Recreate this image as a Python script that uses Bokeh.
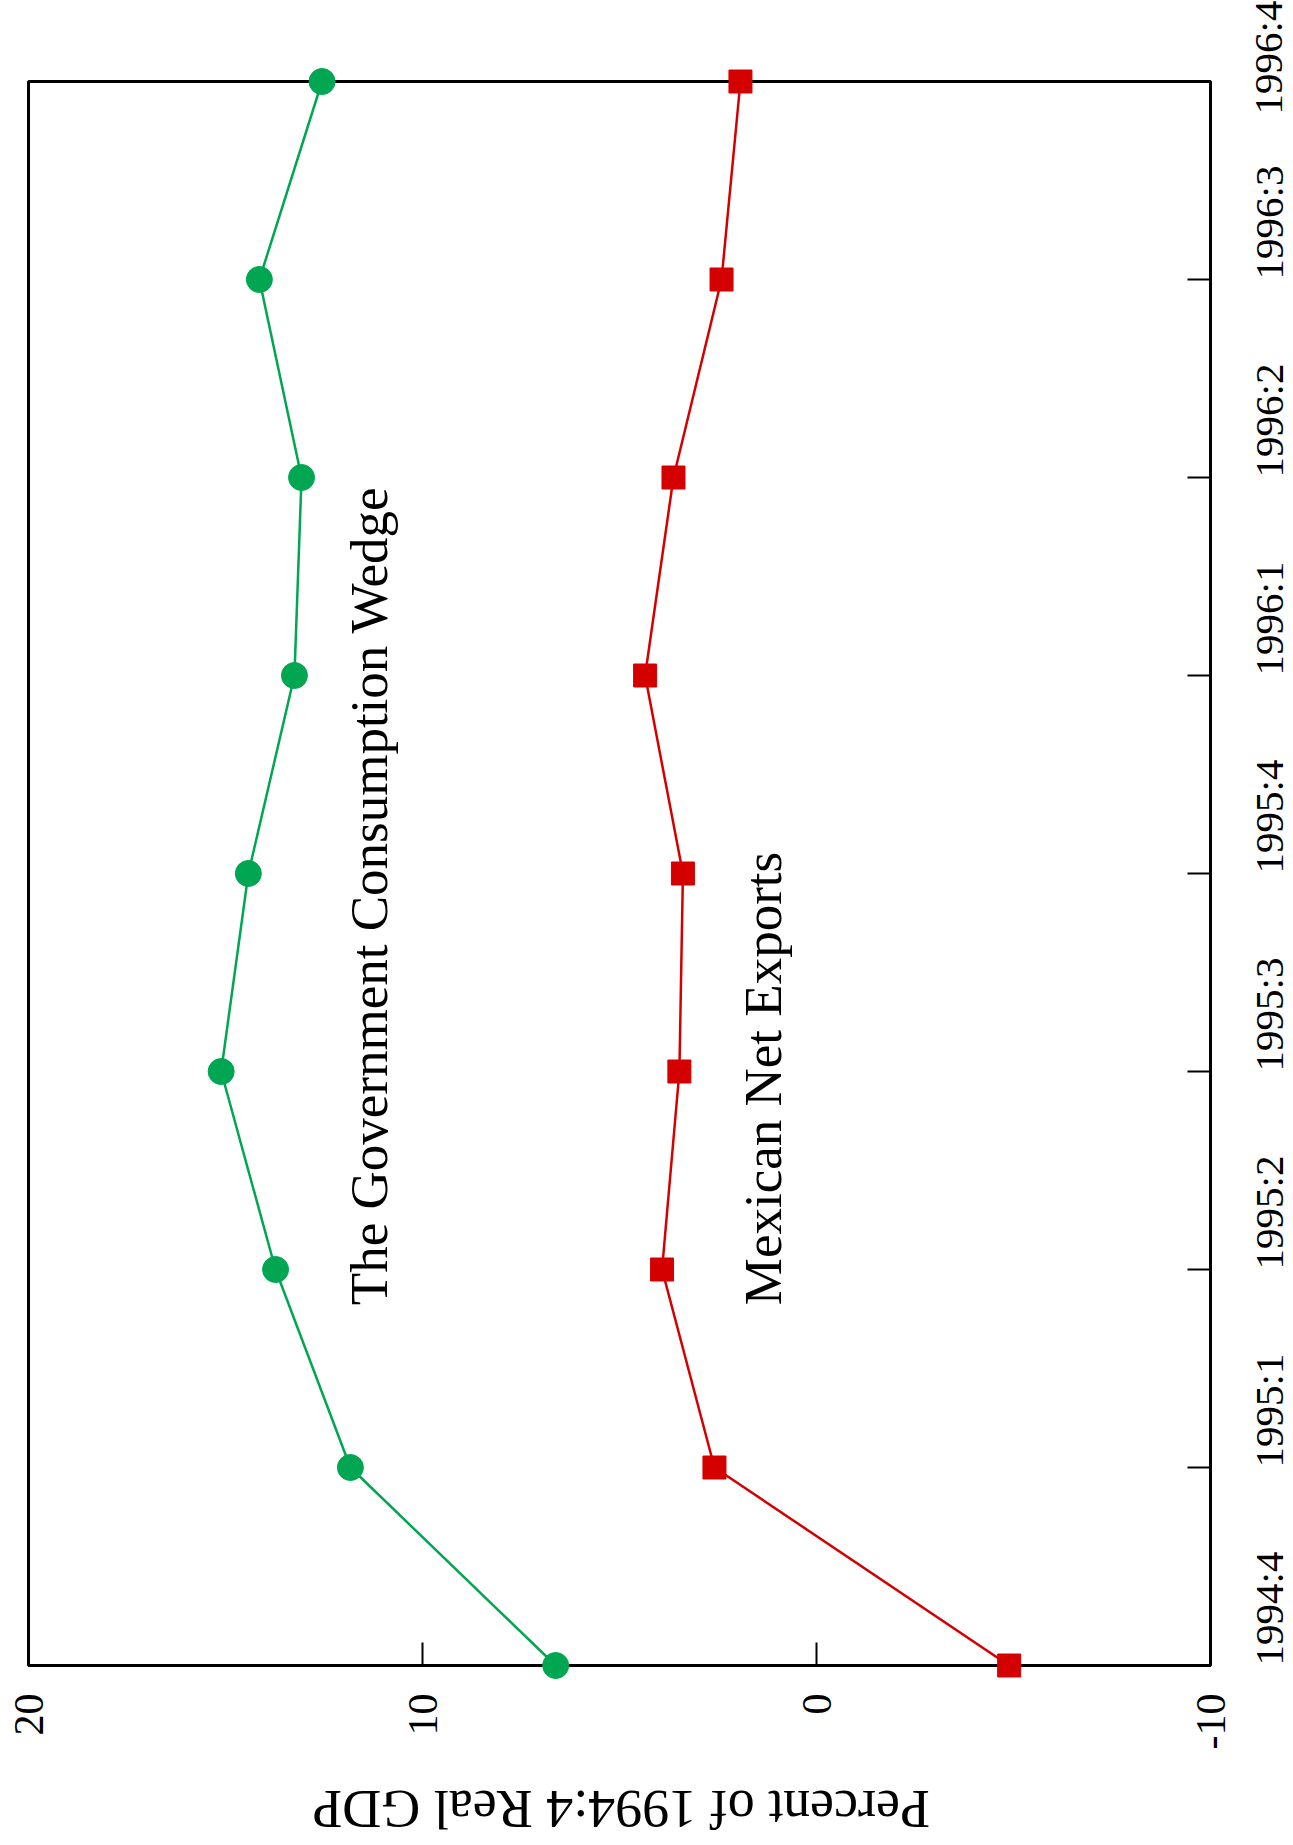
import math
from bokeh.plotting import figure
from bokeh.models import Range1d, FixedTicker, Label, LinearAxis
from bokeh.embed import file_html
from bokeh.resources import INLINE

quarters = ["1994:4", "1995:1", "1995:2", "1995:3", "1995:4",
            "1996:1", "1996:2", "1996:3", "1996:4"]
gov_wedge = [6.62, 11.83, 13.73, 15.11, 14.42, 13.25, 13.07, 14.14, 12.55]
net_exports = [-4.89, 2.59, 3.92, 3.48, 3.39, 4.35, 3.63, 2.41, 1.93]
value_ticks = [-10, 0, 10, 20]
value_tick_labels = ["-10", "0", "10", "20"]
axis_title = "Percent of 1994:4 Real GDP"

idx = list(range(len(quarters)))
FONT = "Liberation Serif"
GREEN = "#00a651"
RED = "#d40000"

p = figure(frame_width=1182, frame_height=1584,
           x_range=Range1d(20, -10), y_range=Range1d(0, len(quarters) - 1),
           x_axis_location="below", y_axis_location="right",
           output_backend="svg", toolbar_location=None,
           min_border_left=28, min_border_top=81, min_border_right=83,
           min_border_bottom=0)

p.xgrid.visible = False
p.ygrid.visible = False
p.outline_line_color = "black"
p.outline_line_width = 3
p.outline_line_alpha = 1.0

for ax in (p.xaxis[0], p.yaxis[0]):
    ax.axis_line_color = None
    ax.major_tick_in = 23
    ax.major_tick_out = 0
    ax.major_tick_line_width = 2
    ax.major_tick_line_color = "black"
    ax.minor_tick_line_color = None
    ax.major_label_text_font = FONT
    ax.major_label_text_color = "black"
    ax.major_label_orientation = math.pi / 2

p.xaxis.ticker = FixedTicker(ticks=value_ticks)
p.xaxis.major_label_overrides = dict(zip(value_ticks, value_tick_labels))
p.xaxis.major_label_text_font_size = "42px"
p.xaxis.major_label_standoff = 28

p.yaxis.ticker = FixedTicker(ticks=idx)
p.yaxis.major_label_overrides = {i: q for i, q in enumerate(quarters)}
p.yaxis.major_label_text_font_size = "41px"
p.yaxis.major_label_standoff = 58

# axis title drawn upside-down as the single label of a second bottom axis;
# the rotated label starts at its anchor, so the anchor is offset to centre it
title_anchor = 12.8
title_axis = LinearAxis(ticker=FixedTicker(ticks=[title_anchor]),
                        major_label_overrides={title_anchor: axis_title},
                        major_label_orientation=math.pi,
                        major_label_text_font=FONT,
                        major_label_text_font_size="54px",
                        major_label_text_color="black",
                        major_label_standoff=50,
                        axis_line_color=None,
                        major_tick_line_color=None,
                        minor_tick_line_color=None)
p.add_layout(title_axis, "below")

p.line(gov_wedge, idx, line_color=GREEN, line_width=2.5)
p.line(net_exports, idx, line_color=RED, line_width=2.5)
r1 = p.scatter(gov_wedge, idx, marker="circle", size=26,
               fill_color=GREEN, line_color=GREEN)
r2 = p.scatter(net_exports, idx, marker="square", size=23,
               fill_color=RED, line_color=RED)
r1.level = "overlay"
r2.level = "overlay"

p.add_layout(Label(x=11.35, y=1.82, text="The Government Consumption Wedge",
                   angle=math.pi / 2, text_align="left", text_baseline="alphabetic",
                   text_font=FONT, text_font_size="53px", text_color="black"))
p.add_layout(Label(x=1.35, y=1.82, text="Mexican Net Exports",
                   angle=math.pi / 2, text_align="left", text_baseline="alphabetic",
                   text_font=FONT, text_font_size="53px", text_color="black"))

open("out.html", "w").write(file_html(p, INLINE))
